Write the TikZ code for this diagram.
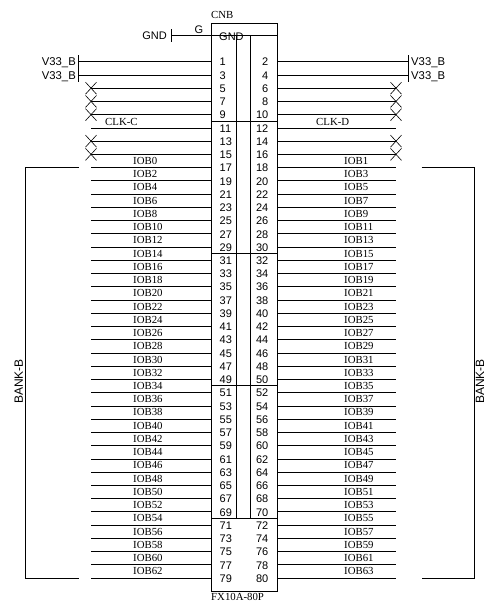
\documentclass[tikz,border=0pt]{standalone}
\usepackage{fontspec}
\usetikzlibrary{calc}
\setmainfont{Liberation Serif}
\setsansfont{Liberation Sans}
\tikzset{
  wire/.style={line width=0.8pt,black},
  boxline/.style={line width=0.9pt,black},
  pinno/.style={font=\sffamily\fontsize{11}{11}\selectfont,inner sep=0pt},
  sans/.style={font=\sffamily\fontsize{11}{11}\selectfont,inner sep=0pt},
  banklabel/.style={font=\sffamily\fontsize{12}{12}\selectfont,inner sep=0pt},
  sig/.style={font=\rmfamily\fontsize{10.8}{11}\selectfont,inner sep=0pt},
  nc/.style={line width=0.6pt,black}
}
\begin{document}
\begin{tikzpicture}[x=1pt,y=-1pt]
\useasboundingbox (0,0) rectangle (486,603);
% connector body
\node (cnb) [draw,boxline,anchor=north west,inner sep=0pt,minimum width=66pt,minimum height=568pt] at (211,22.6) {};
\node [sig,anchor=base west] at (211,18.5) {CNB};
\node [sig,anchor=base west] at (211,600.5) {FX10A-80P};
\coordinate (hdrL) at (211,35);
\coordinate (hdrR) at (277,35);
\draw[boxline] (hdrL) -- (hdrR);
\draw[boxline] (236.7,35) -- (236.7,518);
\draw[boxline] (250.2,35) -- (250.2,518);
\foreach \yy in {121.5,253.5,385.6,518}{
  \draw[boxline] (211,\yy) -- (277,\yy);
}
\node [sans,anchor=west] at (219,36.5) {GND};
% GND net
\node (gnd) [sans,anchor=east] at (167,35.5) {GND};
\coordinate (gndbar) at (171,35);
\draw[wire] (171,29) -- (171,42);
\draw[wire] (gndbar) -- (hdrL);
\node [sans,anchor=center] at (199,29.5) {G};
% pins
\foreach \k in {0,...,39}{
  \pgfmathsetmacro{\yy}{61.7+13.24*\k}
  \pgfmathtruncatemacro{\odd}{2*\k+1}
  \pgfmathtruncatemacro{\even}{2*\k+2}
  \coordinate (L\k) at (211,\yy);
  \coordinate (R\k) at (277,\yy);
  \coordinate (LE\k) at (91,\yy);
  \coordinate (RE\k) at (396,\yy);
  \node (P\odd) [pinno,anchor=west] at (219.5,\yy+0.4) {\odd};
  \node (P\even) [pinno,anchor=east] at (268.5,\yy+0.4) {\even};
  \draw[wire] (LE\k) -- (L\k);
  \draw[wire] (R\k) -- (RE\k);
}
% V33
\foreach \k in {0,1}{
  \coordinate (VL\k) at (78,61.7+13.24*\k);
  \coordinate (VR\k) at (408.5,61.7+13.24*\k);
  \draw[wire] (VL\k) -- (LE\k);
  \draw[wire] (RE\k) -- (VR\k);
  \node [sans,anchor=east,font=\sffamily\fontsize{11.3}{11}\selectfont] at (76,63+13.24*\k) {V33\_B};
  \node [sans,anchor=west,font=\sffamily\fontsize{11.3}{11}\selectfont] at (411,63+13.24*\k) {V33\_B};
}
\draw[wire] (78,55) -- (78,81.5);
\draw[wire] (408.5,55) -- (408.5,81.5);
% no-connect crosses
\foreach \k in {2,3,4,6,7}{
  \draw[nc] ($(LE\k)+(-5.5,-6)$) -- ($(LE\k)+(5.5,6)$);
  \draw[nc] ($(LE\k)+(-5.5,6)$) -- ($(LE\k)+(5.5,-6)$);
  \draw[nc] ($(RE\k)+(-5.5,-6)$) -- ($(RE\k)+(5.5,6)$);
  \draw[nc] ($(RE\k)+(-5.5,6)$) -- ($(RE\k)+(5.5,-6)$);
}
% signal names
\node [sig,anchor=base west] at (105,125) {CLK-C};
\node [sig,anchor=base west] at (316,125) {CLK-D};
\foreach \k in {8,...,39}{
  \pgfmathsetmacro{\yy}{61.7+13.24*\k-3.2}
  \pgfmathtruncatemacro{\a}{2*(\k-8)}
  \pgfmathtruncatemacro{\b}{2*(\k-8)+1}
  \node [sig,anchor=base west] at (133,\yy) {IOB\a};
  \node [sig,anchor=base west] at (344,\yy) {IOB\b};
}
% banks
\coordinate (bl1) at (79,167.7);
\coordinate (bl2) at (79,578);
\coordinate (br1) at (421.5,167.7);
\coordinate (br2) at (421.5,578);
\draw[wire] (bl1) -- (25.5,167.7) -- (25.5,578) -- (bl2);
\draw[wire] (br1) -- (474.5,167.7) -- (474.5,578) -- (br2);
\node [banklabel,rotate=90] at (18.7,381.5) {BANK-B};
\node [banklabel,rotate=90] at (480,381.5) {BANK-B};
\end{tikzpicture}
\end{document}
